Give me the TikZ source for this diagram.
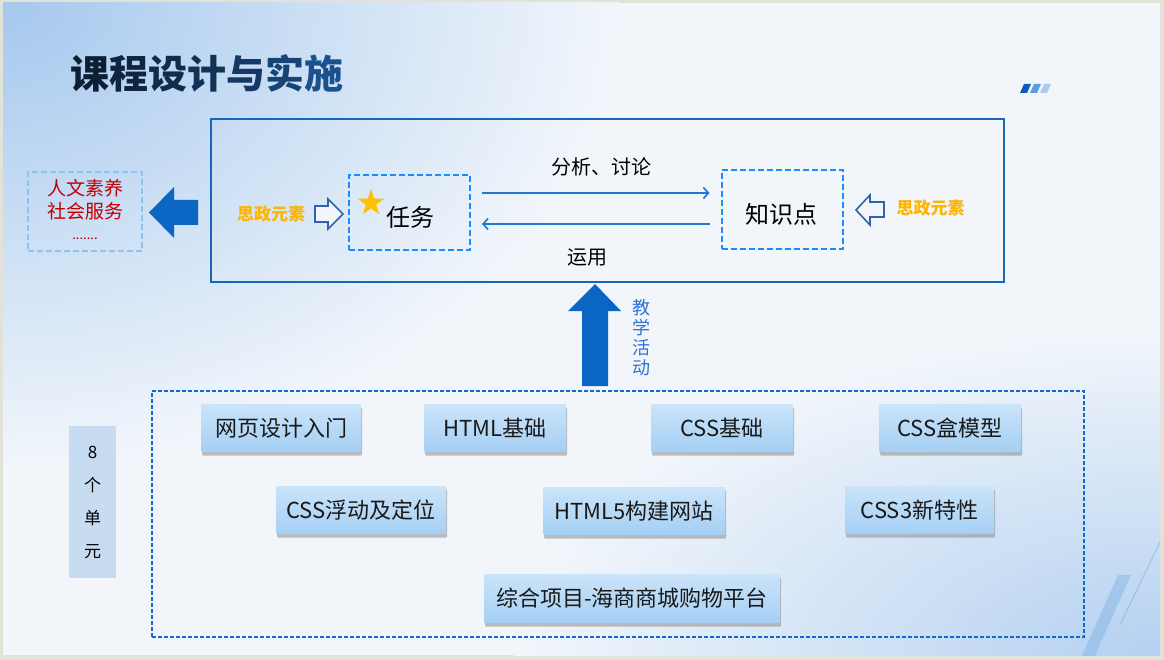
\documentclass[tikz,border=0pt]{standalone}
\usepackage{fontspec}
\setmainfont{Noto Sans CJK SC}
\usetikzlibrary{shapes.geometric,arrows.meta,shadows,calc}
\definecolor{slidebg}{HTML}{F2F6FB}
\definecolor{framec}{HTML}{E2E2D8}
\definecolor{topblue}{HTML}{A5C8EE}
\definecolor{brblue}{HTML}{B3D0F0}
\definecolor{mainblue}{HTML}{1667BB}
\definecolor{dashblue}{HTML}{1A8CFF}
\definecolor{lightdash}{HTML}{8EC3EC}
\definecolor{bigdash}{HTML}{1269D3}
\definecolor{flowblue}{HTML}{1F77D0}
\definecolor{solidarrow}{HTML}{0A66C2}
\definecolor{hollowc}{HTML}{2F64A8}
\definecolor{szorange}{HTML}{FFB400}
\definecolor{redtxt}{HTML}{C00000}
\definecolor{unitfill}{HTML}{C7DBF1}
\definecolor{btntop}{HTML}{CBE4F9}
\definecolor{btnbot}{HTML}{A4CFF4}
\definecolor{vtxt}{HTML}{2E72D2}
\definecolor{starc}{HTML}{FFC000}
\definecolor{stripeA}{HTML}{0B5CC0}
\definecolor{stripeB}{HTML}{5B9BE0}
\definecolor{stripeC}{HTML}{A9CBF0}
\definecolor{bandc}{HTML}{7FB0E6}
\tikzset{
  dashbox/.style={draw=dashblue, line width=2pt, dash pattern=on 6pt off 3pt, minimum width=122pt, minimum height=77pt, inner sep=0pt},
  flow/.style={draw=flowblue, line width=1.6pt, -{Straight Barb[length=5pt,width=11pt,line width=1.6pt]}},
  btn/.style={top color=btntop, bottom color=btnbot, rounded corners=1pt, minimum height=48pt, inner sep=0pt, font=\fontsize{22}{26}\selectfont, text=black!90,
    drop shadow={shadow xshift=1pt, shadow yshift=-3.5pt, fill=black!45, opacity=0.55}},
  szlabel/.style={text=szorange, font=\fontsize{17}{20}\selectfont\bfseries},
  hollow/.style={draw=hollowc, line width=1.6pt, fill=slidebg, line join=miter},
  solid/.style={fill=solidarrow},
  midlabel/.style={font=\fontsize{20}{24}\selectfont, text=black}
}
\begin{document}
\begin{tikzpicture}[x=1pt,y=-1pt]
\useasboundingbox (0,0) rectangle (1164,660);
% background
\fill[framec] (0,0) rectangle (1164,660);
\fill[slidebg] (3,3) rectangle (1160,655);
\begin{scope}
\clip (3,3) rectangle (1160,655);
\shade[inner color=brblue, outer color=slidebg] (1164,660) ellipse (650 and 330);
\shade[inner color=topblue, outer color=slidebg] (0,0) ellipse (620 and 470);
\fill[bandc, opacity=0.45] (1118,575) -- (1131,575) -- (1093,660) -- (1080,660) -- cycle;
\draw[bandc, opacity=0.5, line width=1.2pt] (1162,538) -- (1120,625);
\end{scope}
% title
\node[anchor=west, inner sep=0pt, font=\fontsize{39}{44}\selectfont\bfseries] (title) at (70,73)
  {\textcolor[HTML]{0B1F35}{课}\textcolor[HTML]{0E2540}{程}\textcolor[HTML]{102B4B}{设}\textcolor[HTML]{123157}{计}\textcolor[HTML]{143966}{与}\textcolor[HTML]{174477}{实}\textcolor[HTML]{1A508D}{施}};
% small stripes
\fill[stripeA] (1020,93) -- (1024,84) -- (1031,84) -- (1027,93) -- cycle;
\fill[stripeB] (1030,93) -- (1034,84) -- (1041,84) -- (1037,93) -- cycle;
\fill[stripeC] (1040,93) -- (1044,84) -- (1051,84) -- (1047,93) -- cycle;
% main box
\node[draw=mainblue, line width=2pt, minimum width=793pt, minimum height=163pt, inner sep=0pt] (main) at (607.5,201) {};
% task and knowledge boxes
\node[dashbox, minimum width=121pt, minimum height=75pt] (task) at (409.5,212.5) {};
\node[font=\fontsize{24}{28}\selectfont] (tasktxt) at (410,217) {任务};
\node[star, star points=5, star point ratio=2.6, fill=starc, minimum size=28pt, inner sep=0pt] (star) at (371,203) {};
\node[dashbox, minimum width=121pt, minimum height=79pt] (know) at (782,209.5) {};
\node[font=\fontsize{24}{28}\selectfont] (knowtxt) at (781.5,214) {知识点};
% flows
\coordinate (fy1) at (0,193);
\coordinate (fy2) at (0,224);
\draw[flow, shorten <=11pt, shorten >=11pt] (task.east |- fy1) -- (know.west |- fy1);
\draw[flow, shorten <=11pt, shorten >=11pt] (know.west |- fy2) -- (task.east |- fy2);
\node[midlabel] (lab1) at (601,167) {分析、讨论};
\node[midlabel] (lab2) at (587,257) {运用};
% sizheng elements
\node[szlabel] (szl) at (271,214) {思政元素};
\draw[hollow] (315,206) -- (328,206) -- (328,199) -- (343,214) -- (328,229) -- (328,222) -- (315,222) -- cycle;
\node[szlabel] (szr) at (930.5,208) {思政元素};
\draw[hollow] (884,202) -- (870,202) -- (870,195) -- (856,210) -- (870,225) -- (870,217) -- (884,217) -- cycle;
% left box
\node[draw=lightdash, line width=2pt, dash pattern=on 6pt off 3pt, minimum width=114pt, minimum height=79pt, inner sep=0pt] (soc) at (85,211.5) {};
\node[text=redtxt, font=\fontsize{19}{23}\selectfont, align=center] (soctxt) at (85,200) {人文素养\\社会服务};
\node[text=redtxt, font=\fontsize{13}{15}\selectfont] (dots) at (85,239) {.......};
% big left arrow
\fill[solid] (198,200) -- (174,200) -- (174,187) -- (149,212.5) -- (174,238) -- (174,225) -- (198,225) -- cycle;
% up arrow
\fill[solid] (582,386) -- (582,311) -- (568,311) -- (595,284) -- (621,311) -- (608,311) -- (608,386) -- cycle;
\node[text=vtxt, font=\fontsize{18}{20}\selectfont, align=center] (act) at (641.5,338) {教\\学\\活\\动};
% units
\node[fill=unitfill, minimum width=47pt, minimum height=152pt, inner sep=0pt, font=\fontsize{17}{33}\selectfont, align=center] (units) at (92.5,502) {8\\个\\单\\元};
\node[draw=bigdash, line width=1.5pt, dash pattern=on 4pt off 2pt, minimum width=932pt, minimum height=246pt, inner sep=0pt] (unitsbox) at (618,514) {};
% buttons
\node[btn, minimum width=160pt] (b1) at (281,428) {网页设计入门};
\node[btn, minimum width=142pt] (b2) at (495,428) {HTML基础};
\node[btn, minimum width=142pt] (b3) at (722,428) {CSS基础};
\node[btn, minimum width=142pt] (b4) at (950,428) {CSS盒模型};
\node[btn, minimum width=170pt] (b5) at (361,510) {CSS浮动及定位};
\node[btn, minimum width=182pt] (b6) at (634,511) {HTML5构建网站};
\node[btn, minimum width=149pt] (b7) at (919.5,510) {CSS3新特性};
\node[btn, minimum width=296pt, minimum height=49pt] (b8) at (632,598.5) {综合项目-海商商城购物平台};
\end{tikzpicture}
\end{document}
